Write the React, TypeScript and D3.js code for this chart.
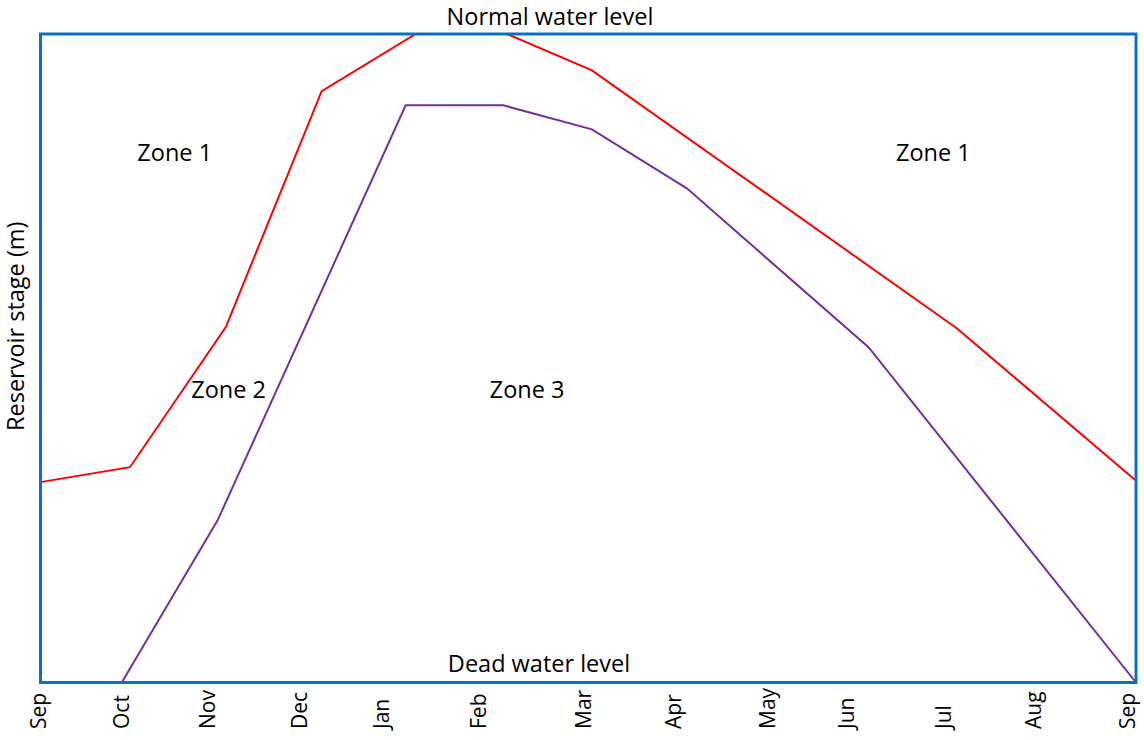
import React from "react";
import * as d3 from "d3";

// x in "month units" from the first September (0) to the next September (12)
// y in relative stage units: 0 = dead water level, 100 = normal water level
const monthLabels = ["Sep", "Oct", "Nov", "Dec", "Jan", "Feb", "Mar", "Apr", "May", "Jun", "Jul", "Aug", "Sep"];
const monthLabelPos = [-0.02, 0.89, 1.83, 2.84, 3.74, 4.8, 5.95, 6.94, 7.96, 8.83, 9.89, 10.88, 11.91];

const upperRuleT = [0, 0.98, 2.03, 3.08, 4.11, 5.11, 6.04, 10.04, 12];
const upperRuleStage = [30.9, 33.2, 54.8, 91.2, 100, 100, 94.4, 54.6, 31.1];

const lowerRuleT = [0.89, 1.94, 4.0, 5.07, 6.04, 7.08, 9.07, 12];
const lowerRuleStage = [0, 25, 89.0, 89.0, 85.3, 76.2, 51.7, 0];

const zoneNames = ["Zone 1", "Zone 1", "Zone 2", "Zone 3"];
const zoneT = [1.47, 9.78, 2.06, 5.33];
const zoneStage = [81.8, 81.8, 45.3, 45.3];

const topLabel = "Normal water level";
const bottomLabel = "Dead water level";
const yTitle = "Reservoir stage (m)";

const W = 1144;
const H = 740;
const FONT = "'Open Sans', 'Noto Sans', sans-serif";
const FS = 23.5;
const FS_MONTH = 21;

export default function App() {
  const left = 40.5, right = 1136, top = 34, bottom = 682.5;
  const x = d3.scaleLinear().domain([0, 12]).range([left, right]);
  const y = d3.scaleLinear().domain([0, 100]).range([bottom, top]);

  const line = d3
    .line<[number, number]>()
    .x((d) => x(d[0]))
    .y((d) => y(d[1]));

  const upper = upperRuleT.map((t, i) => [t, upperRuleStage[i]] as [number, number]);
  const lower = lowerRuleT.map((t, i) => [t, lowerRuleStage[i]] as [number, number]);

  return (
    <svg
      width={W}
      height={H}
      style={{ position: "absolute", left: 0, top: 0, background: "#fff" }}
      fontFamily={FONT}
    >
      <rect x={0} y={0} width={W} height={H} fill="#fff" />
      <path d={line(upper) || ""} fill="none" stroke="#FF0000" strokeWidth={2} />
      <path d={line(lower) || ""} fill="none" stroke="#7030A0" strokeWidth={2} />
      <rect
        x={left}
        y={top}
        width={right - left}
        height={bottom - top}
        fill="none"
        stroke="#0A70C4"
        strokeWidth={3}
      />
      <text x={550} y={top - 18} fontSize={FS} textAnchor="middle" dominantBaseline="central" fill="#000">
        {topLabel}
      </text>
      <text x={539} y={bottom - 20} fontSize={FS} textAnchor="middle" dominantBaseline="central" fill="#000">
        {bottomLabel}
      </text>
      {zoneNames.map((z, i) => (
        <text
          key={i}
          x={x(zoneT[i])}
          y={y(zoneStage[i])}
          fontSize={FS}
          textAnchor="middle"
          dominantBaseline="central"
          fill="#000"
        >
          {z}
        </text>
      ))}
      {monthLabels.map((m, i) => (
        <text
          key={i}
          transform={`translate(${x(monthLabelPos[i])},729) rotate(-90)`}
          fontSize={FS_MONTH}
          textAnchor="start"
          dy="0.35em"
          fill="#000"
        >
          {m}
        </text>
      ))}
      <text
        transform={`translate(16,${(top + bottom) / 2 - 32}) rotate(-90)`}
        fontSize={FS}
        textAnchor="middle"
        dy="0.35em"
        fill="#000"
      >
        {yTitle}
      </text>
    </svg>
  );
}
